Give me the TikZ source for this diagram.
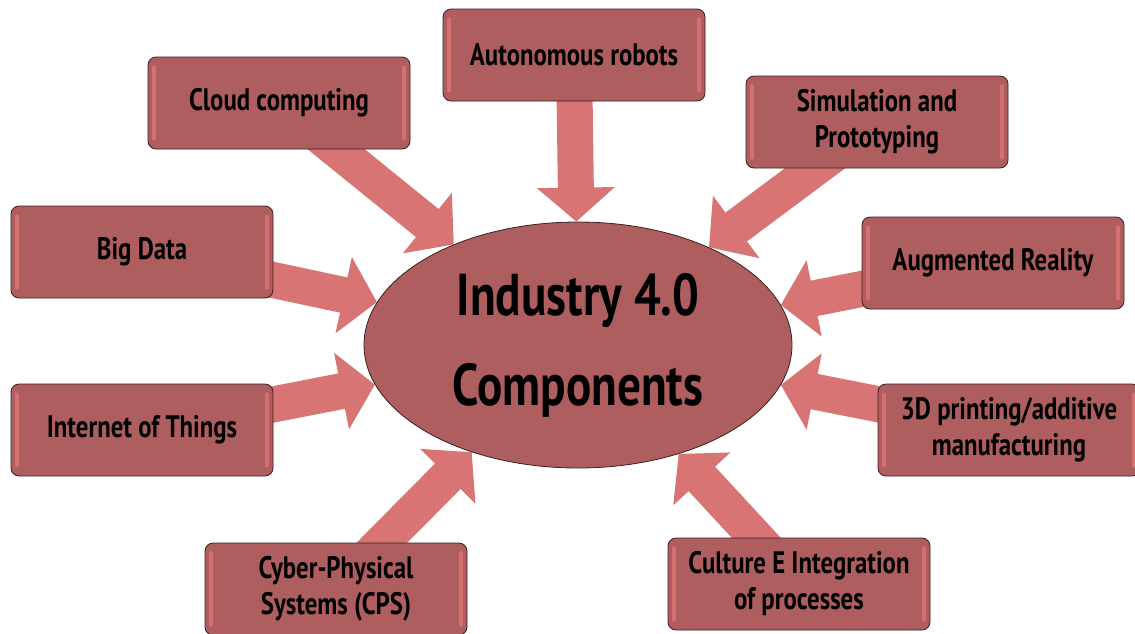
\documentclass[tikz,border=0pt]{standalone}
\usepackage{fontspec}
\setmainfont{PT Sans}[FakeStretch=0.8]
\usetikzlibrary{shapes.geometric,arrows.meta,backgrounds}
\definecolor{boxred}{RGB}{174,94,94}
\definecolor{boxhi}{RGB}{212,112,112}
\definecolor{arrred}{RGB}{216,116,115}
\definecolor{edgered}{RGB}{60,30,30}
\begin{document}
\begin{tikzpicture}[x=0.5pt,y=-0.5pt,
    comp/.style={draw=edgered,fill=boxred,rounded corners=4pt,minimum width=131pt,
      minimum height=46pt,align=center,inner sep=2pt,
      font=\fontsize{15.5}{18}\selectfont\bfseries,
      path picture={
        \draw[boxhi,line width=1.6pt,line cap=round]
          ([xshift=3pt,yshift=-5pt]path picture bounding box.north west) --
          ([xshift=3pt,yshift=5pt]path picture bounding box.south west);
        \draw[boxhi,line width=1.6pt,line cap=round]
          ([xshift=-3pt,yshift=-5pt]path picture bounding box.north east) --
          ([xshift=-3pt,yshift=5pt]path picture bounding box.south east);}},
    feed/.style={arrred,line width=18pt,-{Triangle[width=38pt,length=17pt]}}]
    \useasboundingbox (0,0) rectangle (1135,633);
    % centre
    \node (core) at (578,345) [ellipse,draw=edgered,fill=boxred,inner sep=0pt,
      minimum width=214pt,minimum height=123pt,align=center,
      font=\fontsize{29.5}{45}\selectfont\bfseries] {Industry 4.0\\Components};
    % components
    \node (robots) at (574,55) [comp] {Autonomous robots};
    \node (cloud) at (279,103) [comp] {Cloud computing};
    \node (simul) at (877,122) [comp] {Simulation and\\Prototyping};
    \node (bigdata) at (142,252) [comp] {Big Data};
    \node (augm) at (993,263) [comp] {Augmented Reality};
    \node (iot) at (142,430) [comp] {Internet of Things};
    \node (print) at (1009,430) [comp] {3D printing/additive\\manufacturing};
    \node (cps) at (336,589) [comp] {Cyber-Physical\\Systems (CPS)};
    \node (culture) at (799,584) [comp] {Culture E Integration\\of processes};
    \begin{scope}[on background layer]
        \foreach \n in {robots,cloud,simul,bigdata,augm,iot,print,cps,culture}
        \draw[feed] (\n.center) -- (core);
    \end{scope}
\end{tikzpicture}
\end{document}
